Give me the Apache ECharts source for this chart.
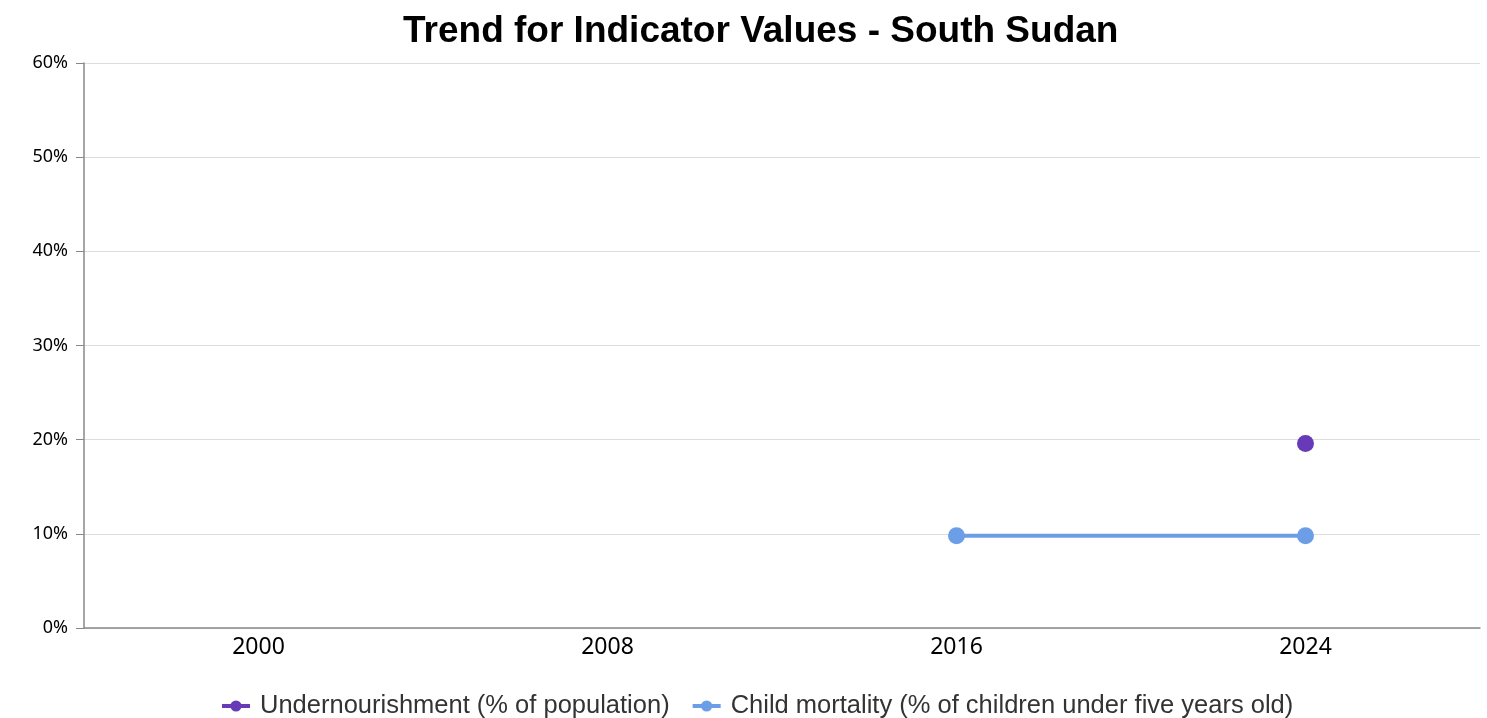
<!DOCTYPE html>
<html><head><meta charset="utf-8">
<script src="https://cdn.jsdelivr.net/npm/echarts@6/dist/echarts.min.js"></script>
<style>html,body{margin:0;padding:0;background:#fff}#c{width:1487px;height:718px}</style>
</head><body><div id="c"></div>
<script>
const title = 'Trend for Indicator Values - South Sudan';
const years = ['2000', '2008', '2016', '2024'];
const undernourishment = [null, null, null, 19.6];
const childMortality = [null, null, 9.8, 9.8];
const seriesNames = ['Undernourishment (% of population)', 'Child mortality (% of children under five years old)'];
const yTicks = [0, 10, 20, 30, 40, 50, 60];

const chart = echarts.init(document.getElementById('c'));
chart.setOption({
  animation: false,
  title: { text: title, left: 398, top: 8, textStyle: { fontFamily: 'Liberation Sans, Arial', fontWeight: 'bold', fontSize: 37, color: '#000' } },
  legend: { left: 215, top: 688, itemGap: 21, itemWidth: 28, itemHeight: 14,
    lineStyle: { width: 4 },
    textStyle: { fontFamily: 'Liberation Sans, Arial', fontSize: 25.5, color: '#333', padding: [0, 0, 0, 5] }, data: seriesNames },
  grid: { left: 84, right: 7, top: 63, bottom: 90, containLabel: false },
  xAxis: {
    type: 'category', data: years, boundaryGap: true,
    axisLine: { lineStyle: { color: '#888', width: 1.5 } },
    axisTick: { alignWithLabel: true, length: 6, lineStyle: { color: '#888' } },
    axisLabel: { fontFamily: 'Noto Sans', fontSize: 23, color: '#000', margin: 8 }
  },
  yAxis: {
    type: 'value', min: yTicks[0], max: yTicks[yTicks.length - 1], interval: 10,
    axisLine: { show: true, lineStyle: { color: '#888', width: 1.5 } },
    axisTick: { show: true, length: 8, lineStyle: { color: '#888' } },
    axisLabel: { formatter: '{value}%', fontFamily: 'Noto Sans', fontSize: 18, color: '#000', margin: 16 },
    splitLine: { lineStyle: { color: '#ddd' } }
  },
  series: [
    { name: seriesNames[0], type: 'line', data: undernourishment, symbol: 'circle', symbolSize: 17, connectNulls: false,
      itemStyle: { color: '#673AB7' }, lineStyle: { width: 4, color: '#673AB7' } },
    { name: seriesNames[1], type: 'line', data: childMortality, symbol: 'circle', symbolSize: 17,
      itemStyle: { color: '#6C9EE8' }, lineStyle: { width: 4, color: '#6C9EE8' } }
  ]
});
</script></body></html>
